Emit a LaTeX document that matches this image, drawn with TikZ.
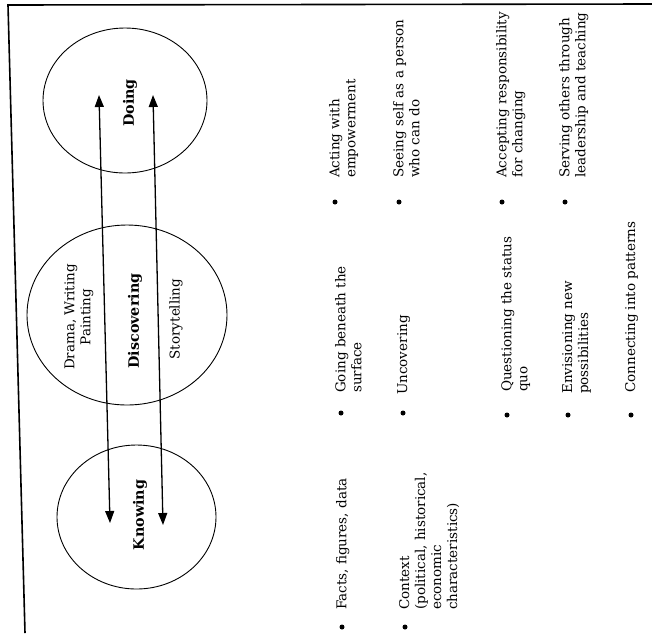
\documentclass[tikz,border=0pt]{standalone}
\usepackage{fontspec}
\setmainfont{DejaVu Serif}
\usetikzlibrary{arrows.meta,shapes.geometric}
\begin{document}
\begin{tikzpicture}[x=1pt,y=-1pt,
  circ/.style={draw, ellipse, line width=0.9pt, inner sep=0pt},
  lbl/.style={rotate=90, align=center, inner sep=0pt, font=\fontsize{13.5}{16}\selectfont},
  blbl/.style={rotate=90, inner sep=0pt, font=\fontsize{14.3}{17}\selectfont\bfseries},
  item/.style={rotate=90, anchor=north west, align=left, inner sep=0pt, font=\fontsize{13.5}{16}\selectfont},
  dot/.style={circle, fill, inner sep=0pt, minimum size=5pt},
  link/.style={line width=1.3pt, {Triangle[length=12pt,width=9pt]}-{Triangle[length=12pt,width=9pt]}},
  framel/.style={line width=1.6pt}]
\fill[white] (0,0) rectangle (652,633);
\useasboundingbox (0,0) rectangle (652,633);
% frame
\coordinate (ftr) at (652,4);
\coordinate (ftl) at (8,5);
\coordinate (fbl) at (25,633);
\draw[framel] (ftr) -- (ftl) -- (fbl);
% circles
\node[circ, minimum width=164pt, minimum height=145pt] (doing) at (125,100.5) {};
\node[circ, minimum width=200pt, minimum height=180pt] (disc) at (127,315) {};
\node[circ, minimum width=159pt, minimum height=144pt] (know) at (136.5,517) {};
% circle labels
\node[blbl] (doingL) at (130,103) {Doing};
\node[blbl] (discL) at (135,321) {Discovering};
\node[blbl] (knowL) at (140,515) {Knowing};
\node[lbl] (drama) at (79,317) {Drama, Writing\\Painting};
\node[lbl] (story) at (176,319) {Storytelling};
% arrows
\coordinate (a1t) at (99,95);
\coordinate (a1b) at (110,523);
\coordinate (a2t) at (153,95);
\coordinate (a2b) at (163,525);
\draw[link] (a1b) -- (a1t);
\draw[link] (a2b) -- (a2t);
% top row
\node[dot] (b1) at (335,202) {};
\node[item] (t1) at (329,178) {Acting with\\empowerment};
\node[dot] (b2) at (399,202) {};
\node[item] (t2) at (393,178) {Seeing self as a person\\who can do};
\node[dot] (b3) at (502,202) {};
\node[item] (t3) at (496,178) {Accepting responsibility\\for changing};
\node[dot] (b4) at (565,202) {};
\node[item] (t4) at (559,178) {Serving others through\\leadership and teaching};
% middle row
\node[dot] (m1) at (341,413) {};
\node[item] (u1) at (335,393) {Going beneath the\\surface};
\node[dot] (m2) at (403,413) {};
\node[item] (u2) at (397,395) {Uncovering};
\node[dot] (m3) at (507,415) {};
\node[item] (u3) at (501,392) {Questioning the status\\quo};
\node[dot] (m4) at (568,415) {};
\node[item] (u4) at (562,394) {Envisioning new\\possibilities};
\node[dot] (m5) at (631,415) {};
\node[item] (u5) at (625,393) {Connecting into patterns};
% bottom row
\node[dot] (k1) at (342,627) {};
\node[item] (v1) at (336,610) {Facts, figures, data};
\node[dot] (k2) at (405,627) {};
\node[item] (v2) at (399,610) {Context\\(political, historical,\\economic\\characteristics)};
\end{tikzpicture}
\end{document}
